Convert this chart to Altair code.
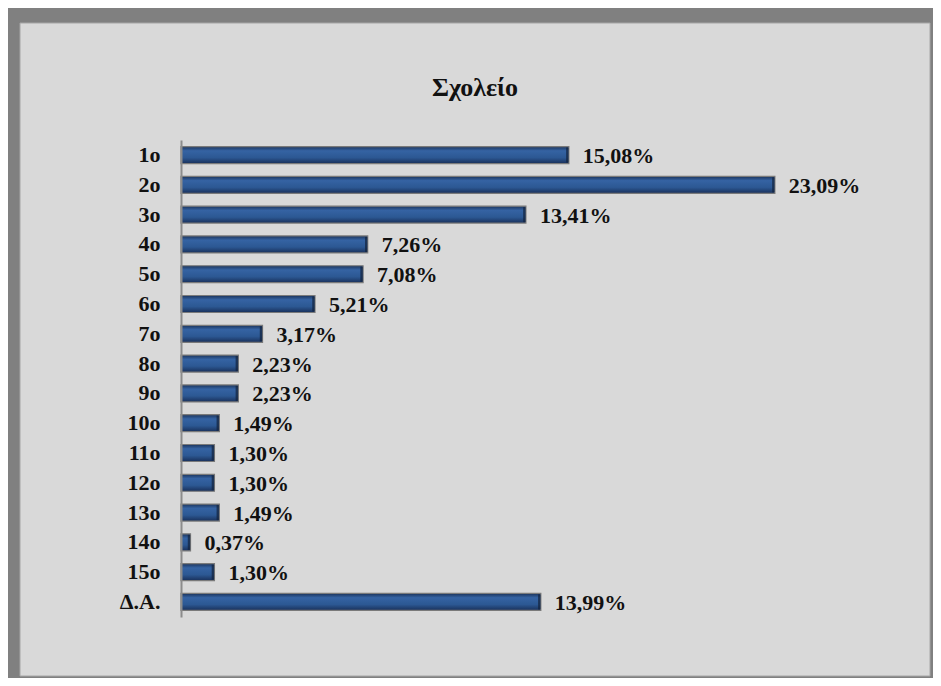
import altair as alt
import pandas as pd

categories = ["1ο", "2ο", "3ο", "4ο", "5ο", "6ο", "7ο", "8ο", "9ο", "10ο",
              "11ο", "12ο", "13ο", "14ο", "15ο", "Δ.Α."]
values = [15.08, 23.09, 13.41, 7.26, 7.08, 5.21, 3.17, 2.23, 2.23, 1.49,
          1.30, 1.30, 1.49, 0.37, 1.30, 13.99]
title_text = "Σχολείο"

df = pd.DataFrame({
    "cat": categories,
    "val": values,
    "label": [f"{v:.2f}".replace(".", ",") + "%" for v in values],
})
single = pd.DataFrame({"t": [title_text]})

W, H = 643, 477
PL, PT = 173, 132
TOTAL_W, TOTAL_H = 925, 670

SERIF = "Liberation Serif"

y_enc = alt.Y("cat:N", sort=categories, title=None,
              scale=alt.Scale(paddingInner=0.43, paddingOuter=0.22),
              axis=alt.Axis(labelFont=SERIF, labelFontWeight="bold",
                            labelFontSize=22, labelColor="#111111",
                            labelPadding=21, ticks=False, grid=False,
                            domainColor="#8c8c8c", domainWidth=2, zindex=1))
x_enc = alt.X("val:Q", scale=alt.Scale(domain=[0, 25], nice=False, zero=True),
              axis=None)

panel = alt.Chart(single).mark_rect(fill="#d9d9d9", stroke="#a6a6a6",
                                    strokeWidth=1).encode(
    x=alt.value(-161), x2=alt.value(749),
    y=alt.value(-117), y2=alt.value(536),
)

title = alt.Chart(single).mark_text(
    font=SERIF, fontWeight="bold", fontSize=26,
    color="#111111", align="center", baseline="alphabetic",
).encode(x=alt.value(294), y=alt.value(-44), text="t:N")

grad = alt.Gradient(
    gradient="linear",
    stops=[
        alt.GradientStop(color="#1b345c", offset=0),
        alt.GradientStop(color="#3563a3", offset=0.25),
        alt.GradientStop(color="#2c5893", offset=0.65),
        alt.GradientStop(color="#19305a", offset=1),
    ],
    x1=0, x2=0, y1=0, y2=1,
)

bars = alt.Chart(df).mark_bar(color=grad, stroke="#7a7a7a",
                              strokeWidth=1.2).encode(y=y_enc, x=x_enc)

ends = alt.Chart(df).mark_tick(color="#12223c", thickness=2.5, size=15,
                               xOffset=-1.5).encode(
    y=alt.Y("cat:N", sort=categories), x="val:Q")

labels = alt.Chart(df).mark_text(align="left", baseline="middle", dx=14,
                                 dy=1, font=SERIF, fontWeight="bold",
                                 fontSize=22, color="#111111").encode(
    y=alt.Y("cat:N", sort=categories), x="val:Q", text="label:N")

chart = alt.layer(panel, title, bars, ends, labels).properties(
    width=W, height=H,
    background="#808080",
    padding={"left": PL, "top": PT,
             "right": TOTAL_W - PL - W, "bottom": TOTAL_H - PT - H},
    autosize=alt.AutoSizeParams(type="none"),
).configure_view(stroke=None)

chart.save("out.html", embed_options={"renderer": "svg", "actions": False})
